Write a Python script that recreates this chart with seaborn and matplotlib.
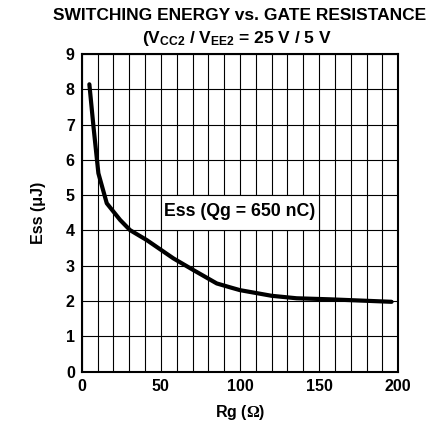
import numpy as np
import pandas as pd
import seaborn as sns
import matplotlib.pyplot as plt
from matplotlib.patches import Rectangle

# Curve
rg = [4.8, 7.4, 10.5, 15.8, 24.2, 30.5, 41, 57.9, 70.5, 85.3, 93.7, 100, 120, 135.8, 157, 195.8]
ess = [8.14, 6.94, 5.62, 4.77, 4.30, 4.01, 3.73, 3.21, 2.88, 2.50, 2.39, 2.31, 2.15, 2.08, 2.05, 1.98]

x_ticks = [0, 50, 100, 150, 200]
y_ticks = [0, 1, 2, 3, 4, 5, 6, 7, 8, 9]
label_text = 'Ess (Qg = 650 nC)'

df = pd.DataFrame({'Rg': rg, 'Ess': ess})

sns.set_theme(style='white')
plt.rcParams['font.family'] = ['Liberation Sans', 'DejaVu Sans']
plt.rcParams['font.weight'] = 'bold'
plt.rcParams['text.color'] = 'black'
plt.rcParams['axes.labelcolor'] = 'black'
plt.rcParams['mathtext.fontset'] = 'custom'
plt.rcParams['mathtext.rm'] = 'Liberation Serif'
plt.rcParams['mathtext.it'] = 'Liberation Serif:italic'
plt.rcParams['mathtext.bf'] = 'Liberation Sans:bold'

fig = plt.figure(figsize=(4.42, 4.28), dpi=100)
ax = fig.add_axes([0.185, 0.1315, 0.716, 0.7425])

sns.lineplot(data=df, x='Rg', y='Ess', color='black', linewidth=3, ax=ax, zorder=4)

ax.set_xlim(0, 200)
ax.set_ylim(0, 9)
ax.set_xticks(x_ticks)
ax.set_xticklabels([str(t) for t in x_ticks], fontsize=11.5, fontweight='bold')
ax.set_xticks(np.arange(0, 201, 10), minor=True)
ax.set_yticks(y_ticks)
ax.set_yticklabels([str(t) for t in y_ticks], fontsize=11.5, fontweight='bold')
ax.grid(True, which='both', color='black', linewidth=0.8, linestyle='-')
ax.set_axisbelow(True)
ax.tick_params(which='both', length=0)
ax.tick_params(axis='both', pad=5, colors='black')
for s in ax.spines.values():
    s.set_color('black')
    s.set_linewidth(1.5)

# white label box over the grid cells between 50-150 / 4-5
ax.add_patch(Rectangle((50, 4), 100, 1, facecolor='white', edgecolor='black', linewidth=0.8, zorder=3))
ax.text(100, 4.53, label_text, ha='center', va='center', fontsize=12.8, fontweight='bold', zorder=5)

ax.set_xlabel(r'Rg ($\mathrm{\Omega}$)', fontsize=11.5, fontweight='bold', labelpad=7)
ax.set_ylabel('Ess (μJ)', fontsize=11.5, fontweight='bold', labelpad=14)

fig.text(0.543, 0.963, 'SWITCHING ENERGY vs. GATE RESISTANCE', ha='center', va='center',
         fontsize=12.5, fontweight='bold')
fig.text(0.535, 0.910, r'(V$_{\mathbf{CC2}}$ / V$_{\mathbf{EE2}}$ = 25 V / 5 V', ha='center', va='center',
         fontsize=12.5, fontweight='bold')

fig.savefig('out.png', dpi=100)
